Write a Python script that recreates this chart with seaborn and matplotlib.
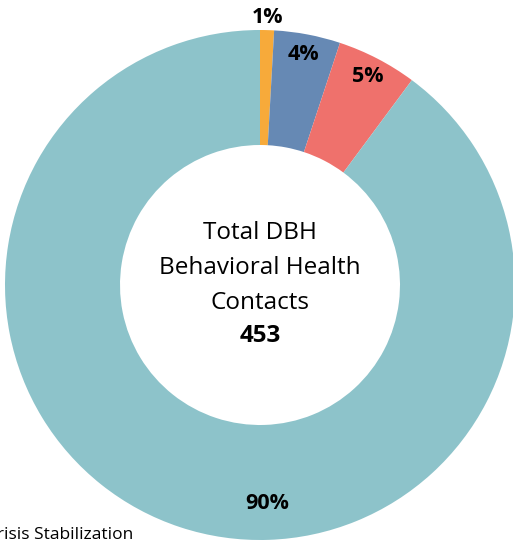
import numpy as np
import seaborn as sns
import matplotlib.pyplot as plt

sns.set_theme(style='white')
plt.rcParams['font.family'] = ['Open Sans', 'DejaVu Sans']
plt.rcParams['text.color'] = 'black'

# contacts by service type (clockwise from 12 o'clock)
categories = ['Other', 'Mobile Crisis', 'Assessment', 'Crisis Stabilization']
counts = [4, 19, 23, 407]
colors = ['#F7AA3A', '#6689B4', '#EF716C', '#8DC3CA']
total = sum(counts)
center_lines = ['Total DBH', 'Behavioral Health', 'Contacts']

fig = plt.figure(figsize=(5.13, 5.41), dpi=100)
ax = fig.add_axes([0, 0, 1, 1])

R = 255
wedges, _ = ax.pie(counts, radius=R, startangle=90, counterclock=False,
                   colors=colors, wedgeprops=dict(width=115, linewidth=0))

for w, c in zip(wedges, counts):
    pct = c / total * 100
    if pct > 50:
        mid = np.deg2rad(-88)
        r = 219
    else:
        mid = np.deg2rad((w.theta1 + w.theta2) / 2)
        r = 268 if pct < 2 else 235
    ax.text(r * np.cos(mid), r * np.sin(mid), f'{pct:.0f}%', ha='center', va='center',
            fontsize=15.5, fontweight='bold')

fs = 17.5
ax.text(0, 52, center_lines[0], ha='center', va='center', fontsize=fs)
ax.text(0, 17, center_lines[1], ha='center', va='center', fontsize=fs)
ax.text(0, -18, center_lines[2], ha='center', va='center', fontsize=fs)
ax.text(0, -51, str(total), ha='center', va='center', fontsize=fs, fontweight='bold')

ax.set_xlim(-260, 253)
ax.set_ylim(-256, 285)
ax.set_aspect('equal')
ax.axis('off')

# legend entry, cropped at the left edge like the source
fig.text(-14 / 513, -2 / 541, 'Crisis Stabilization', ha='left', va='bottom', fontsize=12.5)

fig.savefig('out.png', dpi=100)
